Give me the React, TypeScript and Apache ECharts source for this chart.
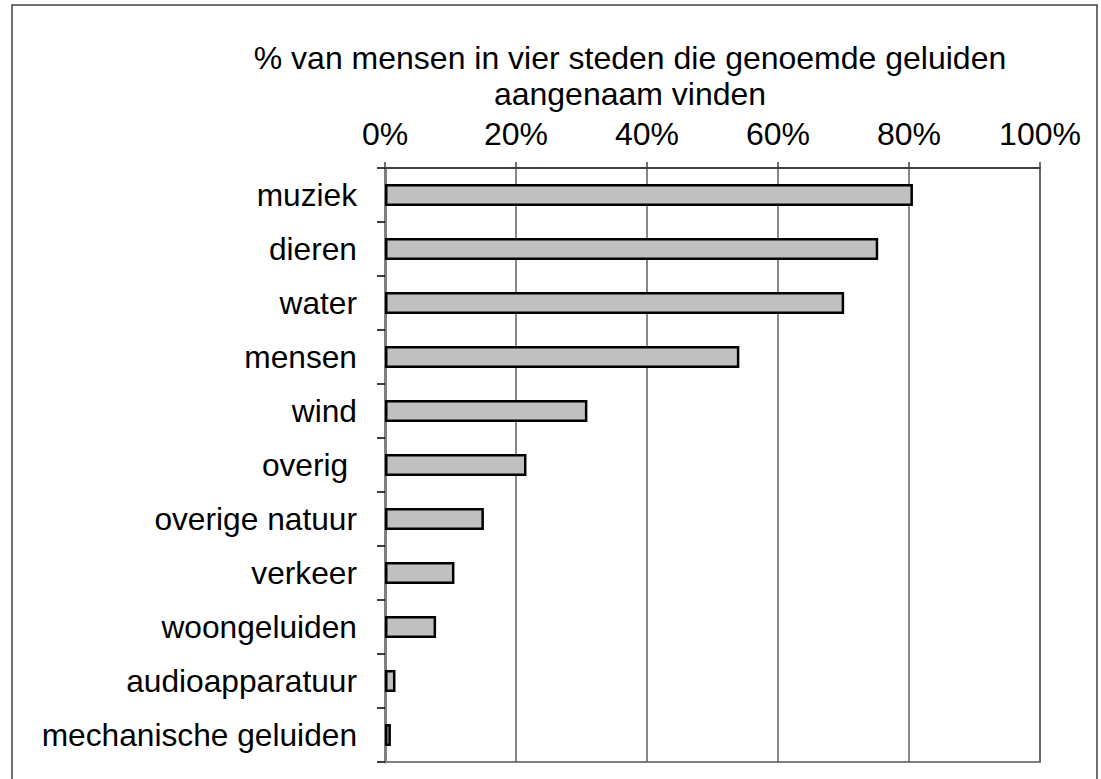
import React, { useEffect, useRef } from "react";
import * as echarts from "echarts";

const categories = [
  "muziek",
  "dieren",
  "water",
  "mensen",
  "wind",
  "overig ",
  "overige natuur",
  "verkeer",
  "woongeluiden",
  "audioapparatuur",
  "mechanische geluiden",
];
const values = [0.806, 0.753, 0.701, 0.541, 0.309, 0.216, 0.151, 0.106, 0.078, 0.016, 0.009];
const titleLines = ["% van mensen in vier steden die genoemde geluiden", "aangenaam vinden"];
const FONT = '"Liberation Sans", Arial, sans-serif';

export default function App() {
  const ref = useRef<HTMLDivElement>(null);
  useEffect(() => {
    const chart = echarts.init(ref.current!, null, { renderer: "svg" });
    chart.setOption({
      animation: false,
      backgroundColor: "#ffffff",
      textStyle: { fontFamily: FONT },
      grid: {
        left: 385,
        right: 61,
        top: 168,
        bottom: 17,
        show: true,
        borderColor: "#808080",
        borderWidth: 2,
        containLabel: false,
      },
      xAxis: {
        type: "value",
        position: "top",
        min: 0,
        max: 1,
        interval: 0.2,
        axisLine: { show: true, lineStyle: { color: "#404040", width: 2 } },
        axisTick: { show: true, length: 6, lineStyle: { color: "#404040", width: 1.5 } },
        axisLabel: {
          margin: 18,
          fontSize: 32,
          color: "#000",
          fontFamily: FONT,
          formatter: (v: number) => Math.round(v * 100) + "%",
        },
        splitLine: { show: true, lineStyle: { color: "#606060", width: 1.5 } },
      },
      yAxis: {
        type: "category",
        data: categories,
        inverse: true,
        axisLine: { show: true, lineStyle: { color: "#808080", width: 3 } },
        axisTick: { show: true, length: 8, lineStyle: { color: "#000", width: 1.5 } },
        axisLabel: { margin: 28, fontSize: 31.7, color: "#000", fontFamily: FONT },
      },
      series: [
        {
          type: "bar",
          data: values,
          barWidth: 22,
          itemStyle: { color: "#c0c0c0", borderColor: "#000", borderWidth: 2.5 },
        },
      ],
      graphic: [
        {
          type: "rect",
          shape: { x: 12, y: 5, width: 1085, height: 820 },
          style: { fill: "none", stroke: "#404040", lineWidth: 1.5 },
          silent: true,
        },
        {
          type: "text",
          x: 630,
          y: 40,
          style: {
            text: titleLines.join("\n"),
            fontSize: 32,
            lineHeight: 36,
            fontFamily: FONT,
            fill: "#000",
            textAlign: "center",
            textVerticalAlign: "top",
          },
        },
      ],
    });
    return () => chart.dispose();
  }, []);
  return (
    <div
      ref={ref}
      style={{ position: "absolute", left: 0, top: 0, width: 1101, height: 779 }}
    />
  );
}
